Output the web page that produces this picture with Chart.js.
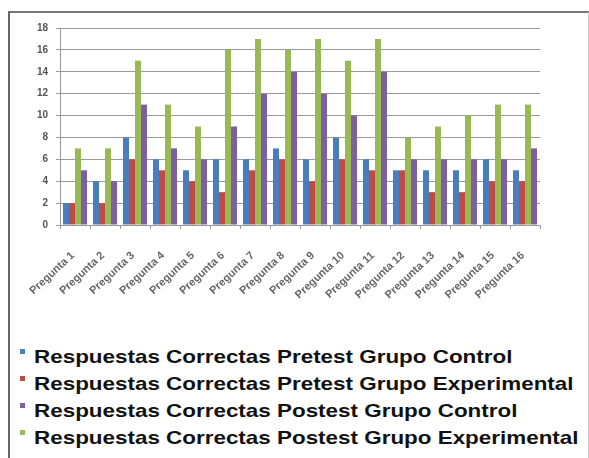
<!DOCTYPE html>
<html>
<head>
<meta charset="utf-8">
<script src="https://cdn.jsdelivr.net/npm/chart.js@4"></script>
<style>
  body { margin: 0; background: #fff; width: 589px; height: 458px; overflow: hidden; position: relative; font-family: "Liberation Sans", Arial, sans-serif; }
  #frame { position: absolute; left: 8px; top: 11px; width: 578px; height: 460px; border-top: 2px solid #777; border-left: 2px solid #666; border-right: 1px solid #ccc; }
  #wrap { position: absolute; left: 10px; top: 13px; width: 560px; height: 300px; }
  #legend { position: absolute; left: 20px; top: 343px; }
  .item { height: 27px; line-height: 27px; font-size: 19px; font-weight: bold; color: #111; white-space: nowrap; }
  .item span.sw { display: inline-block; width: 5px; height: 5px; margin-right: 9px; vertical-align: middle; position: relative; top: -6px; }
  .item span.tx { display: inline-block; transform: scaleX(1.18); transform-origin: left center; }
</style>
</head>
<body>
<div id="frame"></div>
<div id="wrap"><canvas id="c"></canvas></div>
<div id="legend"></div>
<script>
const categories = ['Pregunta 1', 'Pregunta 2', 'Pregunta 3', 'Pregunta 4', 'Pregunta 5', 'Pregunta 6', 'Pregunta 7', 'Pregunta 8',
  'Pregunta 9', 'Pregunta 10', 'Pregunta 11', 'Pregunta 12', 'Pregunta 13', 'Pregunta 14', 'Pregunta 15', 'Pregunta 16'];
const pretestControl = [2, 4, 8, 6, 5, 6, 6, 7, 6, 8, 6, 5, 5, 5, 6, 5];
const pretestExperimental = [2, 2, 6, 5, 4, 3, 5, 6, 4, 6, 5, 5, 3, 3, 4, 4];
const postestExperimental = [7, 7, 15, 11, 9, 16, 17, 16, 17, 15, 17, 8, 9, 10, 11, 11];
const postestControl = [5, 4, 11, 7, 6, 9, 12, 14, 12, 10, 14, 6, 6, 6, 6, 7];
const yTicks = [0, 2, 4, 6, 8, 10, 12, 14, 16, 18];

const series = [
  { label: 'Respuestas Correctas Pretest Grupo Control', data: pretestControl, color: '#4a7ebb' },
  { label: 'Respuestas Correctas Pretest Grupo Experimental', data: pretestExperimental, color: '#be4b48' },
  { label: 'Respuestas Correctas Postest Grupo Experimental', data: postestExperimental, color: '#98b954' },
  { label: 'Respuestas Correctas Postest Grupo Control', data: postestControl, color: '#7d60a0' }
];
const legendOrder = [0, 1, 3, 2];

new Chart(document.getElementById('c'), {
  type: 'bar',
  data: {
    labels: categories,
    datasets: series.map(s => ({
      label: s.label,
      data: s.data,
      backgroundColor: s.color,
      borderWidth: 0,
      categoryPercentage: 0.8,
      barPercentage: 1.0
    }))
  },
  options: {
    responsive: true,
    maintainAspectRatio: false,
    animation: false,
    layout: { padding: { top: 15, right: 30, left: 0, bottom: 0 } },
    plugins: { legend: { display: false }, tooltip: { enabled: false } },
    scales: {
      x: {
        grid: { drawOnChartArea: false, drawTicks: true, tickLength: 4, color: '#999' },
        border: { color: '#999' },
        ticks: { minRotation: 43, maxRotation: 43, color: '#666', font: { size: 11, weight: 'bold', family: 'Liberation Sans' }, padding: 20, labelOffset: -2 },
        afterFit: (scale) => { scale.height = 88; }
      },
      y: {
        min: 0, max: 18,
        afterBuildTicks: (scale) => { scale.ticks = yTicks.map(v => ({ value: v })); },
        grid: { color: '#9a9a9a', tickLength: 4 },
        border: { color: '#999' },
        ticks: { color: '#555', font: { size: 10, weight: 'bold', family: 'Liberation Sans' }, padding: 8 },
        afterFit: (scale) => { scale.width = 50; }
      }
    }
  }
});

const legend = document.getElementById('legend');
legendOrder.forEach(i => {
  const d = document.createElement('div');
  d.className = 'item';
  d.innerHTML = '<span class="sw" style="background:' + series[i].color + '"></span><span class="tx">' + series[i].label + '</span>';
  legend.appendChild(d);
});
</script>
</body>
</html>
